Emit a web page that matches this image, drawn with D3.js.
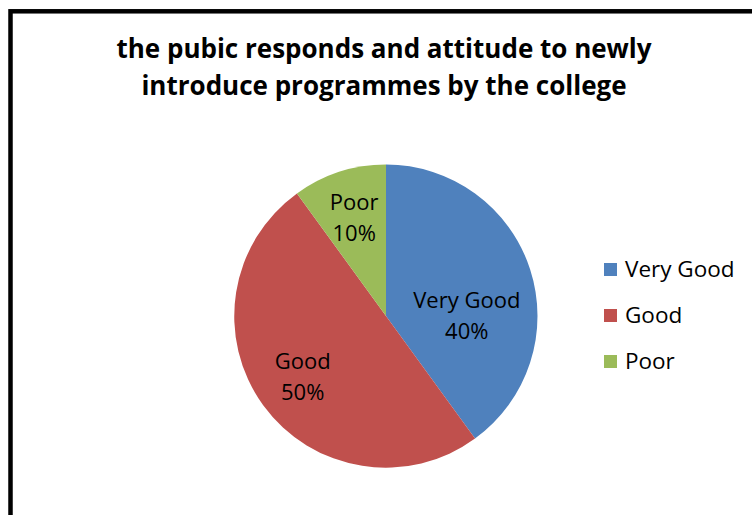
<!DOCTYPE html>
<html>
<head>
<meta charset="utf-8">
<script src="https://cdn.jsdelivr.net/npm/d3@7"></script>
<style>
  html, body { margin: 0; padding: 0; background: #fff; }
  svg { display: block; }
</style>
</head>
<body>
<svg id="chart" width="752" height="515"></svg>
<script>
// Survey responses (percent of respondents)
const categories = ["Very Good", "Good", "Poor"];
const values = [40, 50, 10];
const colors = ["#4F81BD", "#C0504D", "#9BBB59"];
const titleLines = [
  "the pubic responds and attitude to newly",
  "introduce programmes by the college"
];

const svg = d3.select("#chart");
const font = "'Open Sans', 'Noto Sans', sans-serif";

// Chart frame (left and top edges visible, rest runs off the page)
svg.append("rect")
  .attr("x", 10.5).attr("y", 11.3)
  .attr("width", 800).attr("height", 600)
  .attr("fill", "none")
  .attr("stroke", "#000")
  .attr("stroke-width", 4.5);

// Title
svg.append("g")
  .selectAll("text")
  .data(titleLines)
  .join("text")
  .attr("x", 384)
  .attr("y", (d, i) => 58 + i * 37)
  .attr("text-anchor", "middle")
  .attr("font-family", font)
  .attr("font-weight", "bold")
  .attr("font-size", 26)
  .attr("fill", "#000")
  .text(d => d);

// Pie
const cx = 386, cy = 316, r = 151.5;
const data = categories.map((c, i) => ({ name: c, value: values[i], color: colors[i] }));
const pie = d3.pie().value(d => d.value).sort(null);
const arcs = pie(data);
const arc = d3.arc().innerRadius(0).outerRadius(r);
const labelArc = d3.arc().innerRadius(r * 0.68).outerRadius(r * 0.68);

const g = svg.append("g").attr("transform", `translate(${cx},${cy})`);
g.selectAll("path")
  .data(arcs)
  .join("path")
  .attr("d", arc)
  .attr("fill", d => d.data.color);

// Data labels: two lines (name, percent). Each label block is centred on the
// slice bisector; if the block would poke past the fit radius it is moved to
// the widest part of the pie on that side, pushed out to the inner margin.
const total = d3.sum(values);
const lineGap = 31, capH = 15.5;
const fitR = r * 0.93, edgeR = r * 0.9;
const labels = g.selectAll("text.lbl")
  .data(arcs)
  .join("text")
  .attr("class", "lbl")
  .attr("text-anchor", "middle")
  .attr("font-family", font)
  .attr("font-size", 22)
  .attr("fill", "#000");
labels.append("tspan")
  .attr("x", 0).attr("dy", 0)
  .text(d => d.data.name);
labels.append("tspan")
  .attr("x", 0).attr("dy", lineGap)
  .text(d => Math.round(d.data.value / total * 100) + "%");

labels.attr("transform", function(d) {
  const w = d3.max(Array.from(this.querySelectorAll("tspan")), t => t.getComputedTextLength());
  const hw = w / 2, hh = (capH + lineGap) / 2;
  let [x, y] = labelArc.centroid(d);
  const fits = [[-1, -1], [-1, 1], [1, -1], [1, 1]]
    .every(([sx, sy]) => Math.hypot(x + sx * hw, y + sy * hh) <= fitR);
  if (!fits) {
    const side = x >= 0 ? 1 : -1;
    x = side * (Math.sqrt(edgeR * edgeR - hh * hh) - hw);
    y = 0;
  }
  // first baseline sits above the block centre
  return `translate(${x},${y - hh + capH})`;
});

// Legend
const legend = svg.append("g").attr("transform", "translate(604,263)");
const items = legend.selectAll("g")
  .data(data)
  .join("g")
  .attr("transform", (d, i) => `translate(0,${i * 46})`);
items.append("rect")
  .attr("width", 13).attr("height", 13)
  .attr("fill", d => d.color);
items.append("text")
  .attr("x", 21).attr("y", 14)
  .attr("font-family", font)
  .attr("font-size", 22.5)
  .attr("fill", "#000")
  .text(d => d.name);
</script>
</body>
</html>
